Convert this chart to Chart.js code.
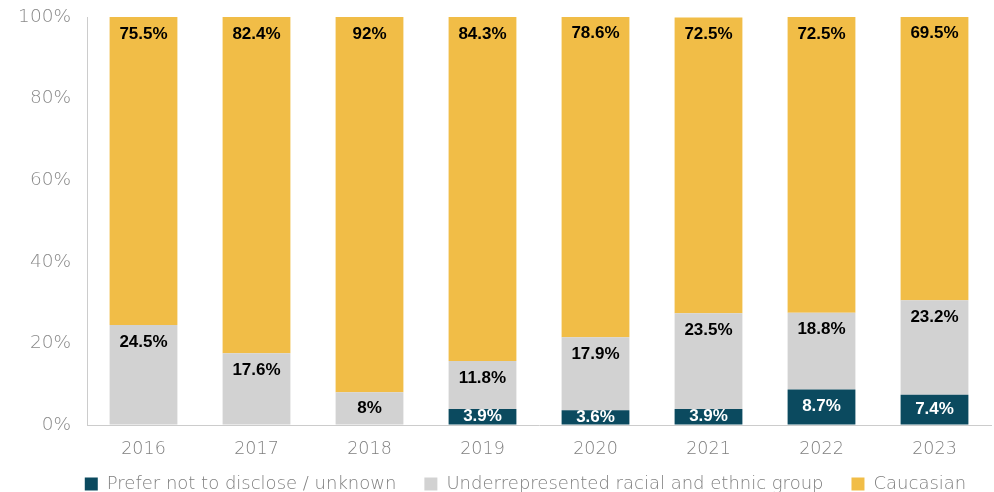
<!DOCTYPE html>
<html>
<head>
<meta charset="utf-8">
<script src="https://cdn.jsdelivr.net/npm/chart.js@4"></script>
<style>
  html, body { margin: 0; padding: 0; background: #fff; }
  #wrap { width: 994px; height: 492px; }
</style>
</head>
<body>
<div id="wrap"><canvas id="raceChart" width="994" height="492"></canvas></div>
<script>
const years = ["2016", "2017", "2018", "2019", "2020", "2021", "2022", "2023"];
const notDisclosed = [0, 0, 0, 3.9, 3.6, 3.9, 8.7, 7.4];
const underrepresented = [24.5, 17.6, 8, 11.8, 17.9, 23.5, 18.8, 23.2];
const caucasian = [75.5, 82.4, 92, 84.3, 78.6, 72.5, 72.5, 69.5];
const yTicks = [0, 20, 40, 60, 80, 100];

const axisFont = "'DejaVu Sans', 'Liberation Sans', sans-serif";

// value labels near the top of each segment
const segmentLabels = {
    id: "segmentLabels",
    afterDatasetsDraw(chart) {
        const ctx = chart.ctx;
        ctx.save();
        ctx.font = "bold 17px 'Liberation Sans', Arial, sans-serif";
        ctx.textAlign = "center";
        ctx.textBaseline = "middle";
        chart.data.datasets.forEach((ds, i) => {
            chart.getDatasetMeta(i).data.forEach((bar, j) => {
                const v = ds.data[j];
                if (!v) return;
                const top = Math.min(bar.y, bar.base);
                const bottom = Math.max(bar.y, bar.base);
                const y = Math.min(top + 17, (top + bottom) / 2);
                ctx.fillStyle = ds.labelColor;
                ctx.fillText(v + "%", bar.x, y);
            });
        });
        ctx.restore();
    }
};

// keep the legend compact and sit it a bit right of centre
const legendPlacement = {
    id: "legendPlacement",
    beforeLayout(chart) {
        const lg = chart.legend;
        if (lg && !lg._compact) {
            const fit = lg.fit.bind(lg);
            lg.fit = function () { fit(); this.height = 30; };
            lg._compact = true;
        }
    },
    afterLayout(chart) {
        const lg = chart.legend;
        lg.top -= 15;
        lg.bottom = chart.height;
        lg.left += 30; lg.right += 30;
    }
};

new Chart(document.getElementById("raceChart").getContext("2d"), {
    type: "bar",
    data: {
        labels: years,
        datasets: [{
            label: "Prefer not to disclose / unknown",
            data: notDisclosed,
            backgroundColor: "#0b4a5f",
            labelColor: "#ffffff"
        }, {
            label: "Underrepresented racial and ethnic group",
            data: underrepresented,
            backgroundColor: "#d2d2d2",
            labelColor: "#000000"
        }, {
            label: "Caucasian",
            data: caucasian,
            backgroundColor: "#f1bd47",
            labelColor: "#000000"
        }]
    },
    options: {
        responsive: false,
        animation: false,
        layout: { padding: { top: 17, right: 3, left: 0, bottom: 0 } },
        datasets: {
            bar: { categoryPercentage: 1, barPercentage: 0.6 }
        },
        scales: {
            x: {
                stacked: true,
                grid: { display: false },
                border: { color: "#cccccc", width: 1 },
                afterFit: axis => { axis.height = 37; },
                ticks: {
                    color: "#7f7f7f",
                    font: { size: 17.5, family: axisFont, weight: 300 },
                    padding: 6
                }
            },
            y: {
                stacked: true,
                min: 0,
                max: 100,
                afterBuildTicks: axis => { axis.ticks = yTicks.map(v => ({ value: v })); },
                afterFit: axis => { axis.width = 87; },
                grid: {
                    display: true,
                    drawOnChartArea: false,
                    drawTicks: true,
                    tickLength: 16,
                    color: "rgba(0,0,0,0)"
                },
                border: { color: "#cccccc", width: 1 },
                ticks: {
                    color: "#8a8a8a",
                    font: { size: 18.5, family: axisFont, weight: 300 },
                    padding: 0,
                    callback: v => v + "%"
                }
            }
        },
        plugins: {
            legend: {
                position: "bottom",
                labels: {
                    boxWidth: 13,
                    boxHeight: 13,
                    padding: 28,
                    color: "#7f7f7f",
                    font: { size: 18, family: axisFont, weight: 300 }
                }
            },
            tooltip: { enabled: false }
        }
    },
    plugins: [segmentLabels, legendPlacement]
});
</script>
</body>
</html>
